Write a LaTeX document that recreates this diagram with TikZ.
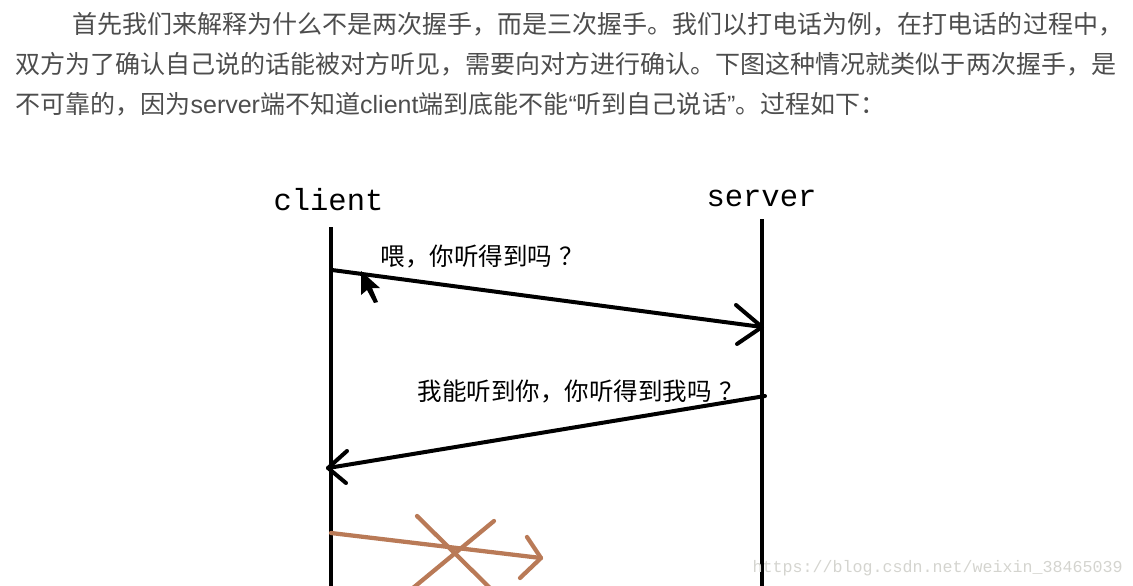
\documentclass[tikz,border=0pt]{standalone}
\usepackage{fontspec}
\setmainfont{Noto Sans CJK SC}
\newfontfamily\latinfont{Liberation Sans}
\newfontfamily\monofont{Liberation Mono}
\definecolor{bodygray}{RGB}{77,77,77}
\definecolor{crossbrown}{RGB}{185,122,87}
\definecolor{markgray}{RGB}{212,212,207}
\tikzset{every picture/.style={line width=0.75pt}}
\tikzset{
  bodytext/.style={anchor=base west,inner sep=0pt,color=bodygray,font=\fontsize{18.76pt}{22pt}\selectfont},
  lifetext/.style={anchor=base west,inner sep=0pt,font=\monofont\fontsize{22.9pt}{26pt}\selectfont},
  msgtext/.style={anchor=base west,inner sep=0pt,font=\fontsize{18.4pt}{22pt}\selectfont},
  lifeline/.style={line width=3pt},
  msgline/.style={line width=3pt,line cap=round,line join=round},
  lostline/.style={line width=3.2pt,color=crossbrown,line cap=round,line join=round}
}

\begin{document}
\begin{tikzpicture}[x=0.75pt,y=0.75pt,yscale=-1,xscale=1]
\useasboundingbox (0,0) rectangle (1133,586);

% Text Node
\draw (72,33) node (line_one) [bodytext] {首先我们来解释为什么不是两次握手，而是三次握手。我们以打电话为例，在打电话的过程中，};
% Text Node
\draw (15,73) node (line_two) [bodytext] {双方为了确认自己说的话能被对方听见，需要向对方进行确认。下图这种情况就类似于两次握手，是};
% Text Node
\draw (15,113) node (line_three) [bodytext] {不可靠的，因为{\latinfont server}端不知道{\latinfont client}端到底能不能{\latinfont “}听到自己说话{\latinfont ”}。过程如下：};

%Straight Lines
\coordinate (client_top) at (331,227);
\coordinate (client_end) at (331,586);
\coordinate (server_top) at (762,219);
\coordinate (server_end) at (762,586);
\draw [lifeline] (client_top) -- (client_end);
\draw [lifeline] (server_top) -- (server_end);

%Straight Lines
\coordinate (hello_from) at (332,270);
\coordinate (hello_to) at (762,327);
\coordinate (hello_up) at (736,305);
\coordinate (hello_low) at (737,344);
\draw [msgline] (hello_from) -- (hello_to);
\draw [msgline] (hello_up) -- (hello_to) -- (hello_low);

%Straight Lines
\coordinate (reply_from) at (765,396);
\coordinate (reply_to) at (328,468);
\coordinate (reply_up) at (347,451);
\coordinate (reply_low) at (346,483);
\draw [msgline] (reply_from) -- (reply_to);
\draw [msgline] (reply_up) -- (reply_to) -- (reply_low);

%Straight Lines
\coordinate (lost_from) at (331,533);
\coordinate (lost_to) at (541,558);
\coordinate (lost_up) at (527,537);
\coordinate (lost_low) at (520,578);
\draw [lostline] (lost_from) -- (lost_to);
\draw [lostline] (lost_up) -- (lost_to) -- (lost_low);
\coordinate (cross_a) at (417,516);
\coordinate (cross_b) at (490,588);
\coordinate (cross_c) at (494,521);
\coordinate (cross_d) at (413,588);
\draw [lostline] (cross_a) -- (cross_b);
\draw [lostline] (cross_c) -- (cross_d);

%Shape: Cursor
\fill [black] (361,271) -- (361,295) -- (367,290) -- (374,303) -- (378,302) -- (372,288) -- (380,288) -- cycle;

% Text Node
\draw (273,210) node (client_label) [lifetext] {client};
% Text Node
\draw (706,206) node (server_label) [lifetext] {server};
% Text Node
\draw (380,265) node (hello_label) [msgtext] {喂，你听得到吗\hspace{0.3em}？};
% Text Node
\draw (417,400) node (reply_label) [msgtext] {我能听到你，你听得到我吗\hspace{0.3em}？};
% Text Node
\draw (752,572) node (mark_label) [anchor=base west,inner sep=0pt,color=markgray,font=\monofont\fontsize{12.5pt}{15pt}\selectfont] {https://blog.csdn.net/weixin\_38465039};

\end{tikzpicture}
\end{document}
